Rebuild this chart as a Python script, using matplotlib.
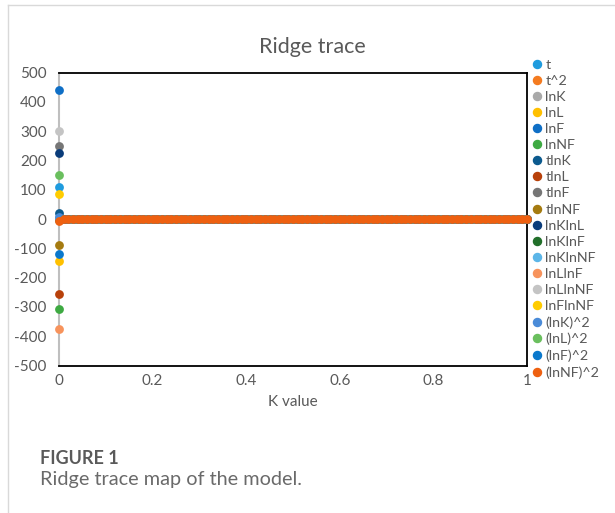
import matplotlib.pyplot as plt
import matplotlib.lines as mlines
import numpy as np

plt.rcParams['font.family'] = ['Lato', 'DejaVu Sans']
plt.rcParams['axes.unicode_minus'] = False

# ridge parameter grid
k_values = np.round(np.arange(0, 1.001, 0.01), 2)

series_names = ['t', 't^2', 'lnK', 'lnL', 'lnF', 'lnNF', 'tlnK', 'tlnL', 'tlnF', 'tlnNF',
                'lnKlnL', 'lnKlnF', 'lnKlnNF', 'lnLlnF', 'lnLlnNF', 'lnFlnNF',
                '(lnK)^2', '(lnL)^2', '(lnF)^2', '(lnNF)^2']
series_colors = ['#1f9bde', '#f47b20', '#a9a9a9', '#ffc000', '#0f6fc6', '#3eaa42',
                 '#0b5a8e', '#b8410a', '#767676', '#a57b10', '#0a3c7a', '#216f2a',
                 '#5cb6e8', '#f7935c', '#c4c4c4', '#ffcc00', '#4a8bd8', '#6abf5e',
                 '#0a78cc', '#ee6010']
# coefficient at K = 0
coef_at_zero = [110, 3, 2, -143, 440, -307, 20, -256, 250, -89,
                225, -2, 5, -374, 300, 86, 8, 150, -119, -8]
# coefficients for K > 0 all sit on the zero line
coef_after_zero = [0.0] * len(series_names)

fig = plt.figure(figsize=(6.15, 5.13), dpi=100)
ax = fig.add_axes([59 / 615, 1 - 365.5 / 513, 468 / 615, 292.8 / 513])

handles = []
for name, col, c0, c1 in zip(series_names, series_colors, coef_at_zero, coef_after_zero):
    yv = [c0] + [c1] * (len(k_values) - 1)
    ax.scatter(k_values, yv, s=40, color=col, linewidths=0, clip_on=False, zorder=3)
    handles.append(mlines.Line2D([], [], marker='o', linestyle='', color=col,
                                 markersize=5.8, label=name))

ax.set_xlim(0, 1)
ax.set_ylim(-500, 500)
ax.set_xticks([0, 0.2, 0.4, 0.6, 0.8, 1])
ax.set_xticklabels(['0', '0.2', '0.4', '0.6', '0.8', '1'])
ax.set_yticks(np.arange(-500, 501, 100))
ax.tick_params(length=0, labelsize=11, colors='#595959', pad=6)
ax.tick_params(axis='y', pad=9)
for s in ['top', 'right', 'bottom']:
    ax.spines[s].set_color('black')
    ax.spines[s].set_linewidth(1.3)
ax.spines['left'].set_color('#bfbfbf')
ax.spines['left'].set_linewidth(1.5)
ax.axhline(0, color='#bfbfbf', lw=1, zorder=1)
ax.set_xlabel('K value', fontsize=11, color='#595959', labelpad=5)

fig.text(312 / 615, 1 - 47 / 513, 'Ridge trace', fontsize=15.5, color='#595959',
         ha='center', va='center')

leg = fig.legend(handles=handles, loc='upper left', bbox_to_anchor=(524 / 615, 1 - 53 / 513),
                 frameon=False, fontsize=10.3, labelspacing=0.285, handletextpad=0.1,
                 handlelength=1.0, borderaxespad=0)
for t in leg.get_texts():
    t.set_color('#595959')

# page frame lines
fig.add_artist(mlines.Line2D([7.5 / 615, 1], [1 - 5 / 513, 1 - 5 / 513], color='#d9d9d9', lw=1))
fig.add_artist(mlines.Line2D([7.5 / 615, 7.5 / 615], [0, 1 - 5 / 513], color='#d9d9d9', lw=1))

fig.text(40 / 615, 1 - 458 / 513, 'FIGURE 1', fontsize=13, fontweight='bold',
         color='#5a5a5a', va='center')
fig.text(40 / 615, 1 - 479 / 513, 'Ridge trace map of the model.', fontsize=14.3,
         color='#6a6a6a', va='center')

fig.savefig('out.png', dpi=100)
